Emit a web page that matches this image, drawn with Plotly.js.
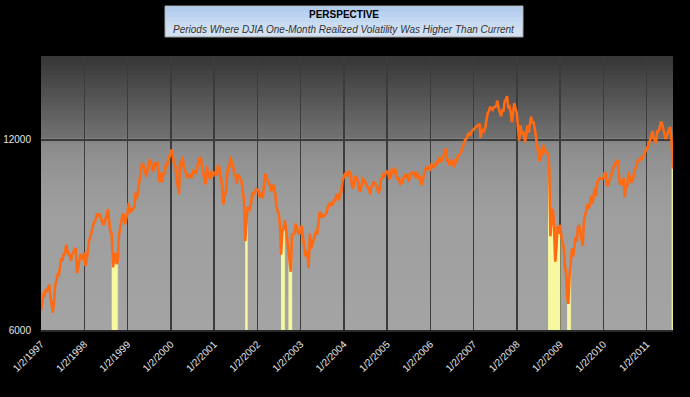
<!DOCTYPE html>
<html>
<head>
<meta charset="utf-8">
<script src="https://cdn.plot.ly/plotly-3.0.1.min.js"></script>
<style>html,body{margin:0;padding:0;background:#000;}#chart{width:690px;height:397px;}</style>
</head>
<body>
<div id="chart"></div>
<script>
// DJIA level, three readings per month (days 1, 11, 21), Jan..Dec
const djia1997 = [6440,6700,6830, 6810,6960,6930, 7020,7080,6800, 6580,6390,6660, 7070,7170,7340, 7330,7540,7790, 7720,7920,7890, 8190,8030,7890, 7880,7720,7920, 7950,8070,8060, 7380,7560,7650, 7910,7850,7760];
const djia1998 = [7960,7580,7730, 8110,8310,8410, 8550,8680,8860, 8900,9010,9180, 9080,9160,9050, 8900,8800,8850, 9050,9230,9330, 8880,8550,8530, 7540,7800,7950, 7630,7730,8470, 8710,8920,9160, 9120,8820,9000];
const djia1999 = [9180,9540,9200, 9360,9300,9340, 9400,9900,9670, 10000,10340,10580, 10950,11030,10830, 10600,10490,10800, 11000,11190,11000, 10700,10790,11050, 11000,11030,10600, 10270,10650,10300, 10650,10600,11000, 10900,11220,11260];
const djia2000 = [11500,11580,11250, 10950,10900,10300, 10150,9850,11120, 10900,11290,10850, 10750,10600,10450, 10550,10560,10450, 10550,10730,10730, 10600,10900,11080, 11220,11250,10900, 10700,10400,10200, 10900,10600,10500, 10400,10700,10500];
const djia2001 = [10650,10600,10590, 10890,10950,10520, 10450,10100,9490, 9850,9900,10530, 10900,10900,11300, 11000,10920,10600, 10550,10230,10580, 10510,10420,10320, 9950,9600,8300, 8800,9400,9300, 9320,9560,9900, 9850,9880,10040];
const djia2002 = [10020,9990,9730, 9900,9700,9830, 10300,10610,10430, 10320,10180,10130, 9950,10200,10110, 9880,9450,9250, 9200,8800,7900, 8600,8670,8960, 8660,8310,7990, 7600,7420,8500, 8520,8530,8840, 8740,8570,8510];
const djia2003 = [8600,8780,8440, 8050,7850,8020, 7890,7530,8520, 8070,8220,8330, 8480,8600,8500, 8900,9190,9200, 9040,9120,9100, 9150,9220,9420, 9500,9460,9530, 9460,9670,9600, 9850,9810,9630, 9900,9920,10340];
const djia2004 = [10450,10600,10620, 10500,10740,10620, 10580,10130,10060, 10380,10520,10440, 10270,9990,9970, 10200,10410,10370, 10280,10140,10050, 10010,9840,10110, 10170,10310,10240, 10190,10080,9870, 10040,10400,10460, 10590,10540,10660];
const djia2005 = [10730,10620,10400, 10490,10800,10610, 10830,10770,10470, 10400,10460,10220, 10250,10280,10470, 10550,10510,10590, 10300,10520,10630, 10620,10680,10550, 10460,10680,10380, 10530,10250,10220, 10440,10690,10780, 10910,10770,10880];
const djia2006 = [10720,11010,10870, 10860,10920,11120, 11030,11080,11260, 11110,11140,11350, 11400,11630,11150, 11170,10970,10980, 11150,11060,10870, 11120,11080,11300, 11380,11400,11530, 11670,11850,12000, 12030,12190,12320, 12190,12310,12420];
const djia2007 = [12470,12510,12570, 12650,12650,12740, 12100,12350,12440, 12390,12570,12920, 13250,13330,13540, 13470,13400,13530, 13530,13580,13850, 13460,13240,13090, 13360,13310,13820, 13900,14080,13520, 13560,13270,12800, 13370,13730,13450];
const djia2008 = [13260,12610,11970, 12650,12240,12380, 12260,11900,12360, 12650,12330,12820, 13060,12750,12820, 12500,12100,11880, 11380,11100,11600, 11330,11780,11470, 11520,11430,11390, 10830,8450,9030, 9330,8690,7700, 8150,8770,8520];
const djia2009 = [8800,8470,8230, 8080,7550,7370, 6760,6600,7280, 7760,8080,7840, 8210,8410,8290, 8740,8760,8530, 8280,8150,8920, 9170,9360,9500, 9340,9630,9780, 9510,9860,10080, 9790,10290,10320, 10460,10410,10410];
const djia2010 = [10430,10660,10600, 10190,10150,10370, 10400,10610,10780, 10920,11010,11120, 11160,10630,10200, 10250,10180,10440, 9730,10200,10120, 10680,10380,10270, 10320,10460,10760, 10830,11010,11150, 11120,11280,11180, 11260,11370,11480];
const djia2011 = [11670,11670,11870, 12040,12230,12390, 12060,12040,11860, 12380,12380,12500, 12810,12760,12510, 12290,12040,12190, 12410,12510,12570, 11870,10810];
const firstYear = 1997;
const readingDays = [1, 11, 21];

// Periods where one-month realized volatility exceeded current
const highVolStart = ['1998-08-21','2001-09-21','2002-07-21','2002-09-21','2008-09-21','2009-03-01','2011-08-01'];
const highVolEnd   = ['1998-10-11','2001-10-11','2002-08-21','2002-10-21','2009-01-01','2009-04-01','2011-08-11'];

const tickYears = [1997,1998,1999,2000,2001,2002,2003,2004,2005,2006,2007,2008,2009,2010,2011];
const yTickVals = [6000, 12000];
const yTickText = ['6000', '12000'];

const titleMain = 'PERSPECTIVE';
const titleSub = 'Periods Where DJIA One-Month Realized Volatility Was Higher Than Current';

// ---- build series ----
const yearly = [djia1997,djia1998,djia1999,djia2000,djia2001,djia2002,djia2003,djia2004,djia2005,djia2006,djia2007,djia2008,djia2009,djia2010,djia2011];
const pad = n => (n < 10 ? '0' : '') + n;
const dates = [], vals = [];
yearly.forEach((arr, yi) => {
  arr.forEach((v, k) => {
    const m = Math.floor(k / 3) + 1, d = readingDays[k % 3];
    dates.push((firstYear + yi) + '-' + pad(m) + '-' + pad(d));
    vals.push(v);
  });
});

const yBase = yTickVals[0];
const traces = [];
highVolStart.forEach((s, i) => {
  const e = highVolEnd[i];
  const xs = [], ys = [];
  dates.forEach((d, j) => { if (d >= s && d <= e) { xs.push(d); ys.push(vals[j]); } });
  const px = xs.concat(xs.slice().reverse());
  const py = ys.concat(xs.map(() => yBase));
  traces.push({x: px, y: py, type: 'scatter', mode: 'lines', fill: 'toself',
    fillcolor: '#f8f8a0', line: {color: '#e8ec90', width: 0.5}, hoverinfo: 'skip', showlegend: false});
});
traces.push({x: dates, y: vals, type: 'scatter', mode: 'lines',
  line: {color: '#ff6a12', width: 2.6}, showlegend: false});

// ---- background gradient (style only) ----
const stops = [[0,164],[0.45,158],[0.62,146],[0.69,136],[0.70,114],[0.85,84],[1.0,54]];
function grey(p) {
  for (let i = 1; i < stops.length; i++) {
    if (p <= stops[i][0]) {
      const a = stops[i-1], b = stops[i];
      const t = (p - a[0]) / (b[0] - a[0]);
      const g = Math.round(a[1] + t * (b[1] - a[1]));
      return 'rgb(' + g + ',' + g + ',' + g + ')';
    }
  }
  return 'rgb(54,54,54)';
}
const shapes = [];
const nb = 60;
for (let i = 0; i < nb; i++) {
  const y0 = i / nb, y1 = (i + 1) / nb;
  shapes.push({type: 'rect', xref: 'paper', yref: 'paper', x0: 0, x1: 1, y0: y0, y1: Math.min(1, y1 + 0.004),
    fillcolor: grey((y0 + y1) / 2), line: {width: 0}, layer: 'below'});
}
// title box (light-blue gradient)
const boxX0 = 0.1962, boxX1 = 0.7627, boxY0 = 1.0693, boxY1 = 1.1825;
shapes.push({type: 'rect', xref: 'paper', yref: 'paper', x0: boxX0, x1: boxX1, y0: boxY0, y1: boxY1,
  fillcolor: '#d2e0f2', line: {color: '#9a9a9a', width: 1}, layer: 'above'});
const blues = ['#b2ccee','#bad2f0','#c2d8f1','#cadcf2'];
blues.forEach((c, i) => {
  const h = (boxY1 - boxY0) / 6;
  shapes.push({type: 'rect', xref: 'paper', yref: 'paper', x0: boxX0 + 0.001, x1: boxX1 - 0.001,
    y0: boxY1 - (i + 1) * h - 0.004, y1: boxY1 - i * h - 0.002, fillcolor: c, line: {width: 0}, layer: 'above'});
});

const layout = {
  width: 690, height: 397,
  paper_bgcolor: '#000000', plot_bgcolor: '#999999',
  margin: {l: 41, r: 17, t: 56, b: 67},
  font: {family: 'Liberation Sans, Arial, sans-serif', color: '#e8e8e8'},
  showlegend: false,
  xaxis: {
    type: 'date', range: ['1997-01-01', '2011-08-12'],
    tickvals: tickYears.map(y => y + '-01-02'),
    ticktext: tickYears.map(y => '1/2/' + y),
    tickangle: -45, tickfont: {size: 10, color: '#e6e6e6'},
    showgrid: true, gridcolor: '#3c3c3c', gridwidth: 1.5,
    zeroline: false, showline: true, linecolor: '#2a2a2a', linewidth: 1.5, ticks: '',
    ticklabelstandoff: 3
  },
  yaxis: {
    type: 'log', range: [Math.log10(6000), Math.log10(16300)],
    tickvals: yTickVals, ticktext: yTickText,
    tickfont: {size: 10, color: '#e6e6e6'},
    showgrid: true, gridcolor: '#3c3c3c', gridwidth: 1.5,
    zeroline: false, showline: false, ticks: '', ticklabelstandoff: 9
  },
  shapes: shapes,
  annotations: [
    {xref: 'paper', yref: 'paper', x: (boxX0 + boxX1) / 2, y: 1.153, text: '<b>' + titleMain + '</b>',
     showarrow: false, xanchor: 'center', yanchor: 'middle',
     font: {size: 10, color: '#000', family: 'Liberation Sans, Arial, sans-serif'}},
    {xref: 'paper', yref: 'paper', x: (boxX0 + boxX1) / 2, y: 1.097, text: '<i>' + titleSub + '</i>',
     showarrow: false, xanchor: 'center', yanchor: 'middle',
     font: {size: 10, color: '#333', family: 'Liberation Sans, Arial, sans-serif'}}
  ]
};

Plotly.newPlot('chart', traces, layout, {displayModeBar: false, staticPlot: true});
</script>
</body>
</html>
